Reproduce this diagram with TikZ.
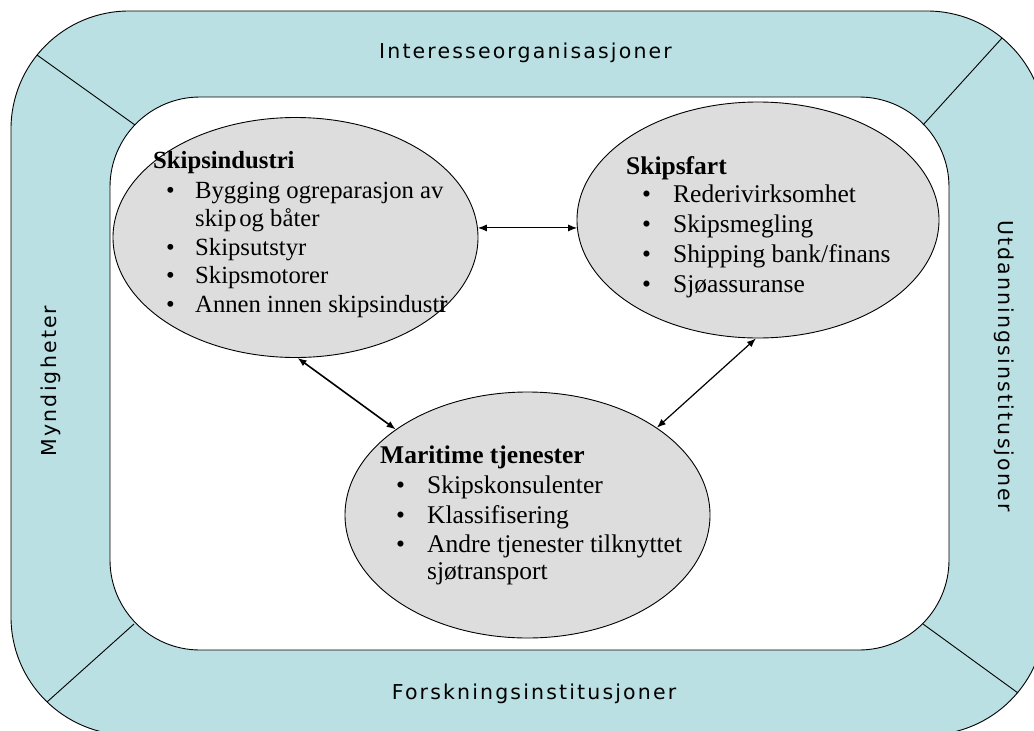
\documentclass[tikz,border=0pt]{standalone}
\usepackage{fontspec}
\setmainfont{Liberation Serif}
\newfontfamily\lblfont[LetterSpace=10.5]{DejaVu Sans}
\usetikzlibrary{shapes.geometric,arrows.meta}
\definecolor{ring}{HTML}{BAE0E3}
\definecolor{ellgray}{HTML}{DDDDDD}
\tikzset{
  ell/.style={ellipse, draw=black, line width=0.9pt, fill=ellgray, inner sep=0pt},
  txt/.style={anchor=base west, inner sep=0pt, font=\fontsize{25.5}{30}\selectfont},
  ttl/.style={anchor=base west, inner sep=0pt, font=\fontsize{25.5}{30}\selectfont\bfseries},
  txtA/.style={anchor=base west, inner sep=0pt, font=\fontsize{24.7}{29}\selectfont},
  ttlA/.style={anchor=base west, inner sep=0pt, font=\fontsize{24.7}{29}\selectfont\bfseries},
  lbl/.style={anchor=base, inner sep=0pt, font=\lblfont\fontsize{20.5}{25}\selectfont},
  arr/.style={{Latex[length=9pt,width=7pt]}-{Latex[length=9pt,width=7pt]}, line width=1pt},
  sep/.style={line width=0.9pt}
}
\newcommand{\bul}[1]{\makebox[#1][l]{•}}
\begin{document}
\begin{tikzpicture}[x=1pt,y=-1pt]
\useasboundingbox (0,0) rectangle (1034,731);
\begin{scope}
  \clip (0,0) rectangle (1034,731);
  \draw[fill=ring, line width=0.9pt, rounded corners=118pt] (11,11) rectangle (1045,735);
\end{scope}
\draw[fill=white, line width=0.9pt, rounded corners=90pt] (110,97) rectangle (949,650);
% corner separators
\coordinate (o1) at (37,55);   \coordinate (i1) at (135,125);
\coordinate (o2) at (1002,38); \coordinate (i2) at (923,125);
\coordinate (o3) at (47,702);  \coordinate (i3) at (134,624);
\coordinate (o4) at (1018,693);\coordinate (i4) at (923,624);
\draw[sep] (o1) -- (i1);
\draw[sep] (o2) -- (i2);
\draw[sep] (o3) -- (i3);
\draw[sep] (o4) -- (i4);
% ring labels
\node[lbl] (lt) at (525.5,58) {Interesseorganisasjoner};
\node[lbl] (lb) at (534,699) {Forskningsinstitusjoner};
\node[lbl, rotate=90] (ll) at (56,381) {Myndigheter};
\node[lbl, rotate=-90] (lr) at (998,366) {Utdanningsinstitusjoner};
% ellipses
\node[ell, minimum width=365pt, minimum height=240pt] (s1) at (295.5,237.5) {};
\node[ell, minimum width=362pt, minimum height=236pt] (s2) at (758,220) {};
\node[ell, minimum width=365pt, minimum height=246pt] (s3) at (527.5,515) {};
% arrows
\draw[arr] (s1.3) -- (s2.183 |- s1.3);
\draw[arr, line width=1.6pt] (s1.-89) -- (s3.147);
\draw[arr, line width=1.2pt] (s2.-91) -- (s3.34);
% texts ellipse 1
\node[ttlA] (a0) at (153,168) {Skipsindustri};
\node[txtA] (a1) at (166,198) {\bul{29pt}Bygging ogreparasjon av};
\node[txtA] (a2) at (195,226) {skip\kern3pt og båter};
\node[txtA] (a3) at (166,255) {\bul{29pt}Skipsutstyr};
\node[txtA] (a4) at (166,283) {\bul{29pt}Skipsmotorer};
\node[txtA] (a5) at (166,312) {\bul{29pt}Annen innen skipsindust\rlap{i}r};
% texts ellipse 2
\node[ttl] (b0) at (626,174) {Skipsfart};
\node[txt] (b1) at (642,202) {\bul{31pt}Rederivirksomhet};
\node[txt] (b2) at (642,232) {\bul{31pt}Skipsmegling};
\node[txt] (b3) at (642,262) {\bul{31pt}Shipping bank/finans};
\node[txt] (b4) at (642,292) {\bul{31pt}Sjøassuranse};
% texts ellipse 3
\node[ttl] (c0) at (380,463) {Maritime tjenester};
\node[txt] (c1) at (396,493) {\bul{31pt}Skipskonsulenter};
\node[txt] (c2) at (396,523) {\bul{31pt}Klassifisering};
\node[txt] (c3) at (396,552) {\bul{31pt}Andre tjenester tilknyttet};
\node[txt] (c4) at (427,579) {sjøtransport};
\end{tikzpicture}
\end{document}
